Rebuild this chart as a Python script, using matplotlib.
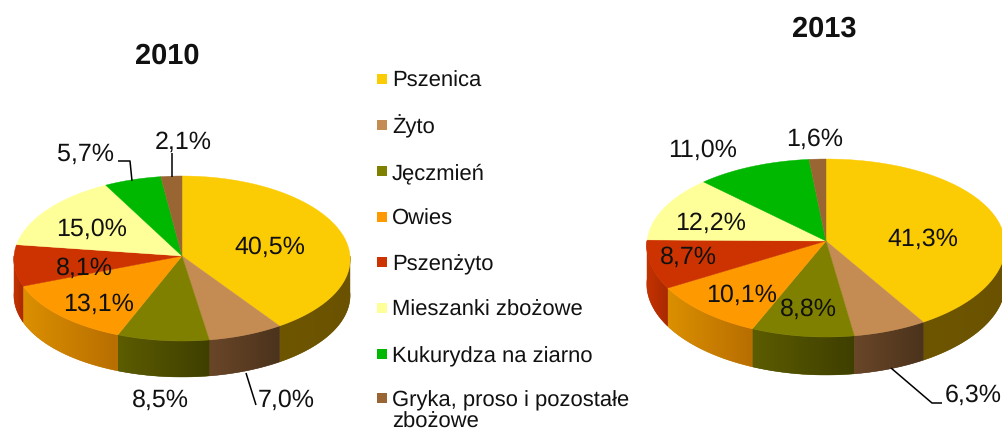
import numpy as np
import matplotlib
matplotlib.use("Agg")
import matplotlib.pyplot as plt
from matplotlib.colors import to_rgb
from matplotlib.patches import Polygon

plt.rcParams['font.family'] = ['Liberation Sans', 'DejaVu Sans']
plt.rcParams['text.hinting'] = 'none'
plt.rcParams['text.hinting_factor'] = 1

categories = ["Pszenica", "Żyto", "Jęczmień", "Owies", "Pszenżyto",
              "Mieszanki zbożowe", "Kukurydza na ziarno", "Gryka, proso i pozostałe\nzbożowe"]
values_2010 = [40.5, 7.0, 8.5, 13.1, 8.1, 15.0, 5.7, 2.1]
values_2013 = [41.3, 6.3, 8.8, 10.1, 8.7, 12.2, 11.0, 1.6]

top_colors = ["#FBCB04", "#C48C52", "#808000", "#FF9900", "#CC3300", "#FFFF99", "#00B800", "#996633"]
side_left = ["#6E5600", "#6A4628", "#5C5C00", "#DB8F00", "#C43200", "#999960", "#007000", "#5C3D1F"]
side_right = ["#6A5200", "#4B331C", "#3F3F00", "#B86E00", "#A82A00", "#999960", "#007000", "#5C3D1F"]

fig = plt.figure(figsize=(10.02, 4.32), dpi=100)
ax = fig.add_axes([0, 0, 1, 1])
ax.axis("off")


def project(theta, cx, cy, rx, rt, rb, k):
    """theta clockwise from 12 o'clock; slight perspective: the front half is larger."""
    u, v = np.sin(theta), -np.cos(theta)
    a, b = (rb + rt) / 2, (rb - rt) / 2
    return cx + rx * u * (1 + k * v), cy + v * (a + b * v)


def pie3d(values, cx, cy, rx, rt, rb, depth, k):
    edges = 2 * np.pi * np.cumsum([0] + list(values)) / sum(values)
    # side wall (front half only), one smooth gradient per slice
    for i in range(len(values)):
        lo, hi = max(edges[i], np.pi / 2), min(edges[i + 1], 3 * np.pi / 2)
        if hi <= lo:
            continue
        ts = np.linspace(lo, hi, 60)
        xs, ys = project(ts, cx, cy, rx, rt, rb, k)
        poly = np.c_[np.r_[xs, xs[::-1]], np.r_[ys, ys[::-1] + depth]]
        cl, cr = np.array(to_rgb(side_left[i])), np.array(to_rgb(side_right[i]))
        ax.add_patch(Polygon(poly, closed=True, facecolor=(cl + cr) / 2,
                             edgecolor=(cl + cr) / 2, lw=0.3, zorder=2))
        fr = np.linspace(0, 1, 64)[None, :, None]
        grad = cl[None, None, :] + (cr - cl)[None, None, :] * fr
        clip = Polygon(poly, closed=True, transform=ax.transData, facecolor="none", edgecolor="none")
        ax.add_patch(clip)
        im = ax.imshow(grad, extent=(xs.min(), xs.max(), ys.max() + depth, ys.min()),
                       aspect="auto", interpolation="bilinear", zorder=2.1)
        im.set_clip_path(clip)
    # top face
    for i in range(len(values)):
        ts = np.linspace(edges[i], edges[i + 1], 90)
        xs, ys = project(ts, cx, cy, rx, rt, rb, k)
        ax.fill(np.r_[cx, xs], np.r_[cy, ys], facecolor=top_colors[i],
                edgecolor=top_colors[i], lw=0.3, zorder=3)


pie3d(values_2010, 182, 256, 168, 80, 85, 36, 0.04)
pie3d(values_2013, 826, 241, 179, 82, 96, 38, 0.055)

ax.set_xlim(0, 1002)
ax.set_ylim(432, 0)

fs = 17.8
fmt = lambda v: f"{v:.1f}%".replace(".", ",")
pos_2010 = [(270, 247), (286, 400), (160, 400), (99, 304), (84, 268), (92, 229), (86, 154), (183, 142)]
pos_2013 = [(923, 239), (973, 395), (808, 309), (742, 295), (688, 257), (711, 223), (703, 150), (815, 139)]
for vals, pos in ((values_2010, pos_2010), (values_2013, pos_2013)):
    for v, (x, y) in zip(vals, pos):
        ax.text(x, y, fmt(v), fontsize=fs, ha="center", va="center", color="#111111", zorder=5)

leaders = [([118, 130, 132], [161, 161, 181]),
           ([172, 172], [153, 177]),
           ([246, 256], [373, 405]),
           ([891, 932, 942], [368, 403, 403])]
for lx, ly in leaders:
    ax.plot(lx, ly, color="black", lw=1.1, zorder=4, solid_capstyle="butt")

ax.text(167, 56, "2010", fontsize=20.8, fontweight="bold", ha="center", va="center", color="#111111")
ax.text(824, 29, "2013", fontsize=20.8, fontweight="bold", ha="center", va="center", color="#111111")

legend_y = [79, 125, 171, 217, 262, 308, 354, 398]
for name, col, y in zip(categories, top_colors, legend_y):
    ax.fill([377, 387, 387, 377], [y - 5, y - 5, y + 5, y + 5], facecolor=col, edgecolor="none")
    for n, line in enumerate(name.split("\n")):
        ax.text(392, y + 8 + n * 21.5, line, fontsize=15.6, ha="left", va="baseline", color="#111111")

fig.savefig("out.png", dpi=100, facecolor="white")
